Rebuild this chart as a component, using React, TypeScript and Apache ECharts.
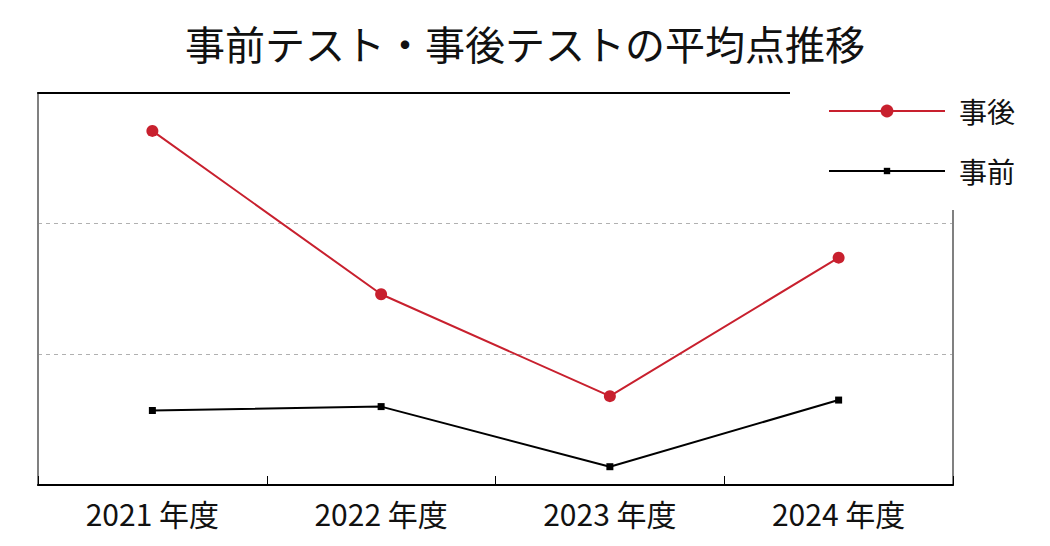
import React, { useEffect, useRef } from 'react';
import * as echarts from 'echarts';

const FONT = '"Noto Sans CJK JP", "Noto Sans", sans-serif';

const COLORS = {
  AFTER: '#c8202e',
  BEFORE: '#000000',
  AXIS_GREY: '#808080',
  SPLIT: '#b0b0b0',
  TEXT: '#111111',
};

const TITLE = '事前テスト・事後テストの平均点推移';
const CATEGORIES = ['2021 年度', '2022 年度', '2023 年度', '2024 年度'];
const AFTER_SCORES = [87.1, 74.6, 66.8, 77.4];
const BEFORE_SCORES = [65.7, 66.0, 61.4, 66.5];
const Y_MIN = 60;
const Y_MAX = 90;
const Y_STEP = 10;

const App: React.FC = () => {
  const divEL = useRef<HTMLDivElement>(null);

  useEffect(() => {
    const instance = echarts.init(divEL.current as any, null, { renderer: 'svg' });

    const valueAxis = (position: 'left' | 'right') => ({
      type: 'value' as const,
      position,
      min: Y_MIN,
      max: Y_MAX,
      interval: Y_STEP,
      axisLine: { show: true, lineStyle: { color: COLORS.AXIS_GREY, width: 2 } },
      axisTick: { show: false },
      axisLabel: { show: false },
      splitLine: {
        show: position === 'left',
        lineStyle: { color: COLORS.SPLIT, type: [4, 4] as any, width: 1 },
      },
    });

    const legendText = {
      fontFamily: FONT,
      fontSize: 28,
      lineHeight: 30,
      color: COLORS.TEXT,
      padding: [0, 0, 0, 9],
    };

    const option: echarts.EChartsOption = {
      animation: false,
      backgroundColor: '#ffffff',
      textStyle: { fontFamily: FONT },
      title: {
        text: TITLE,
        left: 'center',
        top: 18,
        textStyle: {
          fontFamily: FONT,
          fontSize: 40,
          fontWeight: 'normal',
          color: COLORS.TEXT,
        },
      },
      // two legends so each keeps its own marker size; together they form one white box
      legend: [
        {
          orient: 'vertical',
          left: 790,
          top: 80,
          padding: [16, 36, 15, 38],
          backgroundColor: '#ffffff',
          itemWidth: 116,
          itemHeight: 16,
          z: 10,
          textStyle: legendText as any,
          data: ['事後'],
        },
        {
          orient: 'vertical',
          left: 790,
          top: 141,
          padding: [15, 36, 24, 38],
          backgroundColor: '#ffffff',
          itemWidth: 116,
          itemHeight: 8,
          z: 10,
          textStyle: legendText as any,
          data: ['事前'],
        },
      ],
      grid: {
        left: 38,
        right: 97,
        top: 93,
        bottom: 61,
      },
      xAxis: [
        {
          type: 'category',
          position: 'bottom',
          data: CATEGORIES,
          boundaryGap: true,
          axisLine: { show: true, lineStyle: { color: '#000000', width: 2 } },
          axisTick: { show: true, inside: true, length: 9, lineStyle: { color: '#000000', width: 1 } },
          axisLabel: {
            fontFamily: FONT,
            fontSize: 30,
            color: COLORS.TEXT,
            margin: 13,
          },
          splitLine: { show: false },
        },
        {
          type: 'category',
          position: 'top',
          data: CATEGORIES,
          axisLine: { show: true, lineStyle: { color: '#000000', width: 2 } },
          axisTick: { show: false },
          axisLabel: { show: false },
          splitLine: { show: false },
        },
      ],
      yAxis: [valueAxis('left'), valueAxis('right')],
      series: [
        {
          name: '事後',
          type: 'line',
          data: AFTER_SCORES,
          symbol: 'circle',
          symbolSize: 12,
          showAllSymbol: true,
          lineStyle: { color: COLORS.AFTER, width: 2 },
          itemStyle: { color: COLORS.AFTER },
          z: 3,
        },
        {
          name: '事前',
          type: 'line',
          data: BEFORE_SCORES,
          symbol: 'rect',
          symbolSize: 7,
          lineStyle: { color: COLORS.BEFORE, width: 2 },
          itemStyle: { color: COLORS.BEFORE },
          z: 3,
        },
      ],
    };

    instance.setOption(option);

    return () => {
      instance.dispose();
    };
  }, []);

  return (
    <div
      ref={divEL}
      style={{ position: 'fixed', left: 0, top: 0, width: 1050, height: 546 }}
    ></div>
  );
};

export default App;
